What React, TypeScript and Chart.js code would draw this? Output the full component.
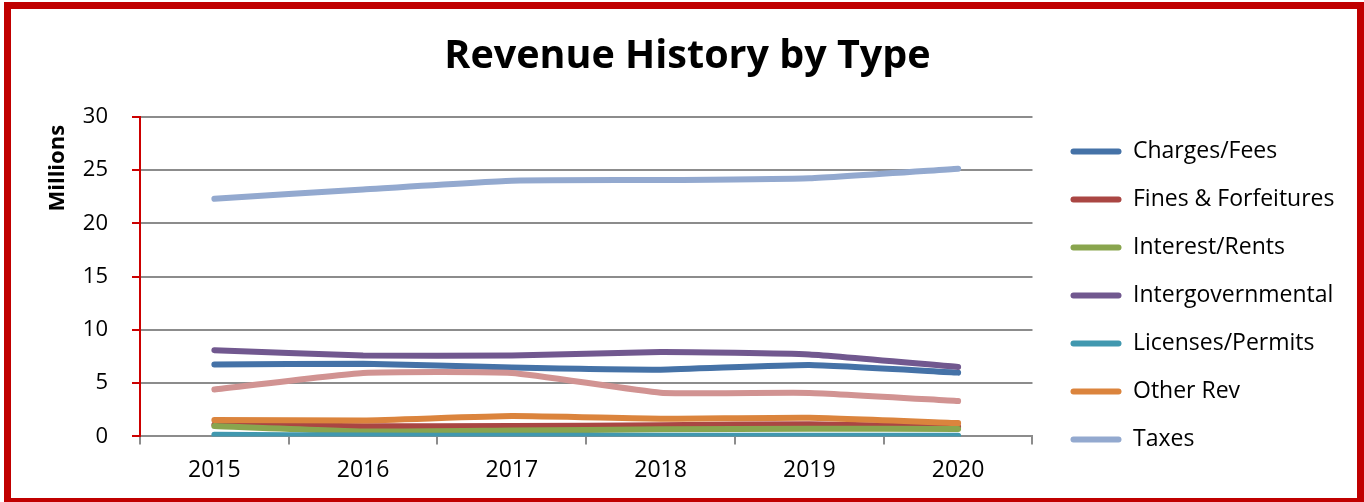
import React, { useEffect, useRef } from "react";
import { Chart, registerables } from "chart.js";

Chart.register(...registerables);

const years = ["2015", "2016", "2017", "2018", "2019", "2020"];
const seriesNames = [
  "Charges/Fees",
  "Fines & Forfeitures",
  "Interest/Rents",
  "Intergovernmental",
  "Licenses/Permits",
  "Other Rev",
  "Taxes",
  "Transfers",
];
const chargesFees = [6.75, 6.83, 6.46, 6.27, 6.71, 5.99];
const finesForfeitures = [1.1, 0.95, 0.97, 1.05, 1.15, 0.9];
const interestRents = [0.97, 0.47, 0.56, 0.66, 0.72, 0.69];
const intergovernmental = [8.1, 7.6, 7.6, 7.93, 7.7, 6.52];
const licensesPermits = [0.15, 0.08, 0.06, 0.06, 0.06, 0.06];
const otherRev = [1.55, 1.5, 1.91, 1.66, 1.75, 1.25];
const taxes = [22.32, 23.2, 24.02, 24.08, 24.25, 25.15];
const transfers = [4.4, 5.96, 5.96, 4.11, 4.08, 3.32];
const seriesColors = [
  "#4572A7",
  "#AA4643",
  "#89A54E",
  "#71588F",
  "#4198AF",
  "#DB843D",
  "#93A9CF",
  "#D19392",
];
const legendCount = 7;
const yTicks = [0, 5, 10, 15, 20, 25, 30];

const FONT = "'Open Sans', 'DejaVu Sans', sans-serif";
const LEGEND_GAP = 13;
const LEGEND_TOP = 115;

const legendPlacer = {
  id: "legendPlacer",
  beforeDraw(chart: any) {
    const lg = chart.legend;
    if (!lg) return;
    lg.left = chart.chartArea.right + LEGEND_GAP;
    lg.right = chart.width;
    lg.top = LEGEND_TOP;
  },
};

export default function App() {
  const ref = useRef<HTMLCanvasElement | null>(null);

  useEffect(() => {
    if (!ref.current) return;
    const values = [
      chargesFees,
      finesForfeitures,
      interestRents,
      intergovernmental,
      licensesPermits,
      otherRev,
      taxes,
      transfers,
    ];
    const chart = new Chart(ref.current, {
      type: "line",
      plugins: [legendPlacer],
      data: {
        labels: years,
        datasets: values.map((v, i) => ({
          label: seriesNames[i],
          data: v,
          borderColor: seriesColors[i],
          backgroundColor: seriesColors[i],
          borderWidth: 6,
          borderCapStyle: "round" as const,
          borderJoinStyle: "round" as const,
          pointRadius: 0,
          pointHoverRadius: 0,
          tension: 0.15,
          fill: false,
          order: -i,
        })),
      },
      options: {
        responsive: false,
        animation: false,
        layout: { padding: { left: 43.5, right: 32.5, top: 0, bottom: 6 } },
        plugins: {
          tooltip: { enabled: false },
          title: {
            display: true,
            text: "Revenue History by Type",
            color: "#000",
            font: { family: FONT, size: 39.5, weight: "bold" },
            padding: { top: 33, bottom: 36.6 },
          },
          legend: {
            display: true,
            position: "right",
            align: "start",
            fullSize: true,
            labels: {
              font: { family: FONT, size: 23 },
              color: "#000",
              boxWidth: 51,
              boxHeight: 6,
              padding: 25,
              useBorderRadius: true,
              borderRadius: 3,
              sort: (a: any, b: any) => a.datasetIndex - b.datasetIndex,
              filter: (item: any) => item.datasetIndex < legendCount,
              generateLabels: (c: any) => {
                const items = Chart.defaults.plugins.legend.labels.generateLabels(c);
                return items.map((it: any) => ({
                  ...it,
                  fillStyle: seriesColors[it.datasetIndex],
                  strokeStyle: seriesColors[it.datasetIndex],
                  lineWidth: 0,
                  borderRadius: 3,
                }));
              },
            },
          },
        },
        scales: {
          x: {
            type: "category",
            offset: true,
            border: { display: true, color: "#8c8c8c", width: 2 },
            grid: {
              display: true,
              offset: true,
              drawOnChartArea: false,
              drawTicks: true,
              tickLength: 8,
              color: "#8c8c8c",
              lineWidth: 2,
            },
            ticks: {
              color: "#000",
              font: { family: FONT, size: 23 },
              padding: 12,
              maxRotation: 0,
            },
          },
          y: {
            type: "linear",
            position: "left",
            min: 0,
            max: 30,
            afterBuildTicks: (s: any) => {
              s.ticks = yTicks.map((v) => ({ value: v }));
            },
            afterFit: (s: any) => {
              s.width = 96.5;
            },
            border: { display: true, color: "#CC0000", width: 2 },
            grid: {
              display: true,
              color: "#8c8c8c",
              tickColor: "#CC0000",
              lineWidth: 2,
              tickLength: 8,
            },
            ticks: {
              color: "#000",
              font: { family: FONT, size: 22 },
              padding: 24,
            },
            title: {
              display: true,
              text: "Millions \u200A",
              align: "end",
              color: "#000",
              font: { family: FONT, size: 22, weight: "bold" },
              padding: { top: 1.5, bottom: 0 },
            },
          },
        },
      },
    });
    return () => chart.destroy();
  }, []);

  return (
    <div
      style={{
        position: "fixed",
        left: 0,
        top: 0,
        width: 1364,
        height: 502,
        background: "#fff",
        overflow: "hidden",
      }}
    >
      <canvas
        ref={ref}
        width={1364}
        height={502}
        style={{ position: "absolute", left: 0, top: 0, width: 1364, height: 502 }}
      />
      <div
        style={{
          position: "absolute",
          left: 4,
          top: 2,
          width: 1360,
          height: 500,
          boxSizing: "border-box",
          borderStyle: "solid",
          borderColor: "#C00000",
          borderWidth: "7px 7px 4px 7px",
          pointerEvents: "none",
        }}
      />
    </div>
  );
}
